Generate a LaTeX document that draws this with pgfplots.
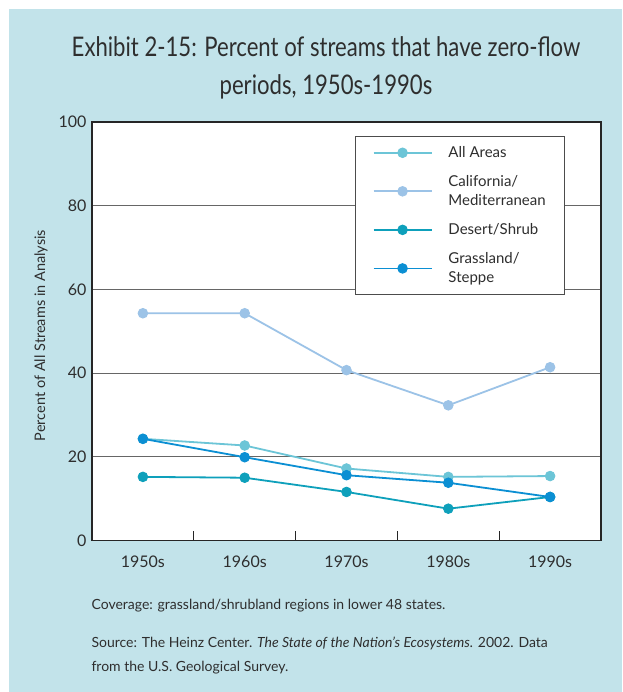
\documentclass[border=0pt]{standalone}
\usepackage{pgfplots}
\pgfplotsset{compat=1.18}
\usepackage{fontspec}
\setmainfont{Lato}
\newfontfamily\titlefont[FakeStretch=0.82]{Lato}
\definecolor{bgc}{HTML}{C2E3EA}
\definecolor{txt}{HTML}{2E2E2E}
\definecolor{allc}{HTML}{6CC5D7}
\definecolor{calc}{HTML}{9CC3E7}
\definecolor{desc}{HTML}{0EA0BB}
\definecolor{grac}{HTML}{0B8FD3}
\begin{document}
\begin{tikzpicture}[x=1pt,y=1pt]
\fill[white] (0,0) rectangle (622,692);
\fill[bgc] (9,0) rectangle (622,683);
\node[font=\titlefont\fontsize{27}{38}\selectfont, text=txt, anchor=base] at (326,635) {Exhibit 2-15: Percent of streams that have zero-flow};
\node[font=\titlefont\fontsize{27}{38}\selectfont, text=txt, anchor=base] at (326,597) {periods, 1950s-1990s};
\begin{axis}[
  at={(92pt,151.5pt)}, anchor=south west, scale only axis,
  width=509pt, height=418.5pt,
  xmin=-0.5, xmax=4.5, ymin=0, ymax=100,
  axis background/.style={fill=white},
  /pgf/number format/assume math mode=true,
  xtick={0.5,1.5,2.5,3.5}, xticklabels={},
  extra x ticks={0,1,2,3,4},
  extra x tick labels={1950s,1960s,1970s,1980s,1990s},
  extra x tick style={major tick length=0pt, grid=none},
  tick align=inside, major tick length=9pt, tick pos=left,
  ytick={0,20,...,100}, ytick style={draw=none},
  ymajorgrids,
  grid style={color=black!60, line width=0.9pt},
  xtick style={color=black!85, line width=1pt},
  axis line style={line width=1.8pt, color=black!85},
  tick label style={font=\fontsize{16}{18}\selectfont, color=txt},
  yticklabel style={xshift=-2pt},
  xticklabel style={yshift=-12pt},
  ylabel={Percent of All Streams in Analysis},
  every axis y label/.style={at={(axis description cs:-0.1,0.49)}, rotate=90, anchor=center, font=\fontsize{14.5}{16}\selectfont, color=txt},
  legend style={at={(rel axis cs:0.517,0.9665)}, anchor=north west, draw=black!70, line width=1pt, fill=white,
    font=\fontsize{15}{19}\selectfont, text=txt, inner xsep=17pt, inner ysep=8pt, row sep=12.5pt,
    /tikz/every odd column/.append style={column sep=14pt}, cells={anchor=west, align=left}},
  legend image code/.code={\draw[mark repeat=2,mark phase=2,#1] plot coordinates {(0pt,0pt) (29pt,0pt) (58pt,0pt)};},
  every axis plot/.append style={line width=1.8pt, mark=*, mark size=4.8pt},
]
\addplot[color=allc, mark options={fill=allc, draw=allc, line width=0.9pt}] coordinates {(0,24.3) (1,22.7) (2,17.2) (3,15.2) (4,15.4)};
\addlegendentry{All Areas}
\addplot[color=calc, mark options={fill=calc, draw=calc, line width=0.9pt}] coordinates {(0,54.3) (1,54.3) (2,40.7) (3,32.3) (4,41.4)};
\addlegendentry{California/\\Mediterranean}
\addplot[color=desc, mark options={fill=desc, draw=desc, line width=0.9pt}] coordinates {(0,15.2) (1,15.0) (2,11.6) (3,7.6) (4,10.4)};
\addlegendentry{Desert/Shrub}
\addplot[color=grac, mark options={fill=grac, draw=grac, line width=0.9pt}] coordinates {(0,24.3) (1,19.9) (2,15.6) (3,13.8) (4,10.4)};
\addlegendentry{Grassland/\\Steppe}
\end{axis}
\node[anchor=base west, font=\fontsize{14}{24}\selectfont, text=txt] at (88,82) {Coverage: grassland/shrubland regions in lower 48 states.};
\node[anchor=base west, font=\fontsize{14}{24}\selectfont, text=txt] at (88,44) {Source: The Heinz Center. \textit{The State of the Nation’s Ecosystems.} 2002. Data};
\node[anchor=base west, font=\fontsize{14}{24}\selectfont, text=txt] at (88,20) {from the U.S. Geological Survey.};
\end{tikzpicture}
\end{document}
